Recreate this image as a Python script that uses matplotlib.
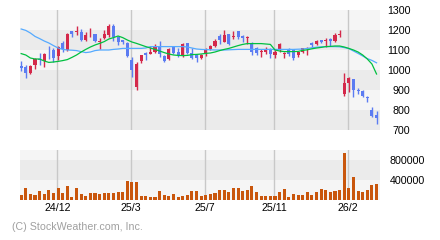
import matplotlib
matplotlib.use("Agg")
import matplotlib.pyplot as plt
import numpy as np

# ---- data ----
opens = [1022,1017,985,1027,1055,1045,1082,1100,1072,1133,
         1100,1195,1190,1190,1150,1188,1180,1138,1162,1173,
         1220,1167,1150,1135,1050,917,1045,1083,1082,1092,
         1118,1072,1055,1115,1090,1072,1135,1085,1077,1060,
         1082,1103,1120,1170,1142,1178,1167,1195,1170,1160,
         1135,1110,1092,1090,1107,1074,1100,1078,1102,1105,
         1073,1090,1108,1137,1130,1150,1147,1153,1147,1177,
         878,937,953,900,897,867,800,775]
highs = [1045,1025,1025,1060,1083,1083,1120,1108,1118,1145,
         1183,1195,1220,1205,1188,1208,1182,1162,1200,1230,
         1230,1172,1152,1140,1067,1038,1075,1088,1117,1132,
         1145,1075,1108,1122,1112,1133,1137,1108,1080,1078,
         1108,1123,1153,1178,1200,1182,1195,1196,1175,1170,
         1140,1115,1106,1115,1108,1100,1133,1092,1108,1106,
         1090,1112,1115,1142,1150,1152,1158,1158,1183,1200,
         983,967,953,908,898,872,813,797]
lows = [995,962,980,1005,1025,1017,1053,1040,1050,1088,
        1097,1163,1175,1147,1147,1167,1142,1105,1155,1167,
        1147,1125,1130,1067,967,900,1037,1050,1078,1087,
        1067,1040,1052,1078,1063,1063,1080,1055,1042,1057,
        1072,1100,1115,1128,1140,1125,1153,1155,1142,1130,
        1077,1075,1067,1082,1062,1058,1090,1058,1072,1052,
        1067,1087,1075,1117,1127,1135,1117,1120,1142,1163,
        872,888,867,878,867,842,767,728]
closes = [1012,987,1020,1055,1048,1080,1078,1062,1113,1103,
          1180,1180,1193,1150,1173,1191,1147,1147,1180,1220,
          1163,1142,1138,1070,1000,1030,1075,1075,1092,1115,
          1078,1047,1105,1083,1073,1130,1087,1060,1062,1073,
          1102,1120,1145,1148,1175,1132,1172,1165,1162,1164,
          1092,1083,1095,1107,1078,1092,1130,1087,1082,1062,
          1088,1108,1111,1124,1145,1141,1152,1147,1175,1182,
          933,958,900,894,872,862,772,758]
volumes = [100,250,120,100,180,120,200,140,240,140,
           280,60,240,120,80,140,140,120,140,140,
           140,160,160,380,360,360,80,80,60,60,
           180,100,80,120,60,80,100,180,180,80,
           100,120,140,200,200,160,240,240,180,200,
           280,160,80,80,80,80,160,220,60,120,
           100,100,160,100,160,220,200,160,180,200,
           940,240,460,180,160,200,300,320]  # thousands
ma_long = [1205,1198,1185,1168,1157,1145,1135,1122,1110,1103,
           1100,1099,1097,1092,1087,1090,1097,1100,1100,1100,
           1103,1105,1108,1108,1108,1108,1108,1110,1117,1117,
           1117,1117,1117,1117,1117,1117,1115,1110,1105,1103,
           1102,1101,1100,1100,1100,1101,1102,1103,1103,1103,
           1103,1103,1103,1103,1103,1103,1103,1103,1103,1103,
           1104,1105,1108,1111,1114,1116,1117,1117,1117,1116,
           1112,1107,1095,1083,1070,1057,1048,1036]
ma_short = [1082,1075,1060,1055,1055,1045,1038,1040,1043,1047,
            1052,1063,1075,1090,1103,1115,1125,1133,1142,1155,
            1162,1170,1162,1150,1140,1133,1125,1117,1110,1103,
            1095,1087,1080,1075,1073,1072,1073,1077,1078,1080,
            1083,1085,1090,1097,1103,1108,1115,1122,1128,1132,
            1132,1132,1132,1130,1128,1100,1095,1092,1092,1092,
            1093,1098,1101,1106,1110,1113,1117,1118,1120,1120,
            1115,1108,1100,1090,1075,1055,1030,980]
tick_index = [8, 24, 40, 55, 71]
tick_labels = ["24/12", "25/3", "25/7", "25/11", "26/2"]
price_ticks = [700, 800, 900, 1000, 1100, 1200, 1300]
vol_ticks = [400000, 800000]

# ---- style ----
RED = "#d4284a"
BLUE = "#5c7cf2"
VOLC = "#c9560c"
LIGHT = "#f5f5f5"
DARK = "#ebebeb"
GRID = "#c8c8c8"
FONT = "Liberation Sans"

W, H = 440, 240
fig = plt.figure(figsize=(W / 100, H / 100), dpi=100)
fig.patch.set_facecolor("white")

def px_axes(left, top, right, bottom):
    return fig.add_axes([left / W, (H - bottom) / H, (right - left) / W, (bottom - top) / H])

ax = px_axes(20, 10, 380, 130)
axv = px_axes(20, 150, 380, 200)

n = len(opens)
x = np.arange(n)
xlim = (-0.25, n - 0.25)
o = np.array(opens, float); c = np.array(closes, float)
h = np.array(highs, float); l = np.array(lows, float)
up = c >= o
colors = np.where(up, RED, BLUE)

# price bands
for i, lo in enumerate(range(700, 1300, 100)):
    ax.axhspan(lo, lo + 100, color=DARK if i % 2 == 0 else LIGHT, lw=0, zorder=0)
gx = np.array(tick_index) - 0.15
for g in gx:
    ax.axvline(g, color=GRID, lw=1.0, zorder=1)
ax.vlines(x, l, h, colors=colors, lw=1.0, zorder=3)
bottoms = np.minimum(o, c)
heights = np.maximum(np.abs(c - o), 4)
ax.bar(x, heights, bottom=bottoms, width=0.68, color=colors, lw=0, zorder=4)
ax.plot(x, ma_long, color="#55aaff", lw=0.9, zorder=5)
ax.plot(x, ma_short, color="#00c040", lw=0.9, zorder=5)
ax.set_xlim(*xlim)
ax.set_ylim(700, 1300)

# volume
vol = np.array(volumes) * 1000
axv.axhspan(0, 400000, color=LIGHT, lw=0, zorder=0)
axv.axhspan(400000, 800000, color=DARK, lw=0, zorder=0)
axv.axhspan(800000, 1000000, color=LIGHT, lw=0, zorder=0)
for g in gx:
    axv.axvline(g, color=GRID, lw=1.0, zorder=1)
axv.bar(x, vol, width=0.68, color=VOLC, lw=0, zorder=3)
axv.set_xlim(*xlim)
axv.set_ylim(0, 1000000)

for a in (ax, axv):
    for s in a.spines.values():
        s.set_visible(False)
    a.yaxis.tick_right()

ax.set_xticks([])
ax.set_yticks(price_ticks)
ax.set_yticklabels([str(t) for t in price_ticks], fontsize=7.7, family=FONT, ha="right")
ax.tick_params(axis="y", length=0, pad=21.8)

axv.set_yticks(vol_ticks)
axv.set_yticklabels([str(t) for t in vol_ticks], fontsize=7.7, family=FONT, ha="right")
axv.tick_params(axis="y", length=0, pad=32.6)
axv.set_xticks(gx)
axv.set_xticklabels(tick_labels, fontsize=7.7, family=FONT)
axv.tick_params(axis="x", length=0, pad=2.5)

fig.text(12 / W, (H - 227) / H, "(C) StockWeather.com, Inc.", fontsize=7.7,
         family=FONT, color="#a0a0a0", va="center", ha="left")

fig.savefig("out.png", dpi=100)
